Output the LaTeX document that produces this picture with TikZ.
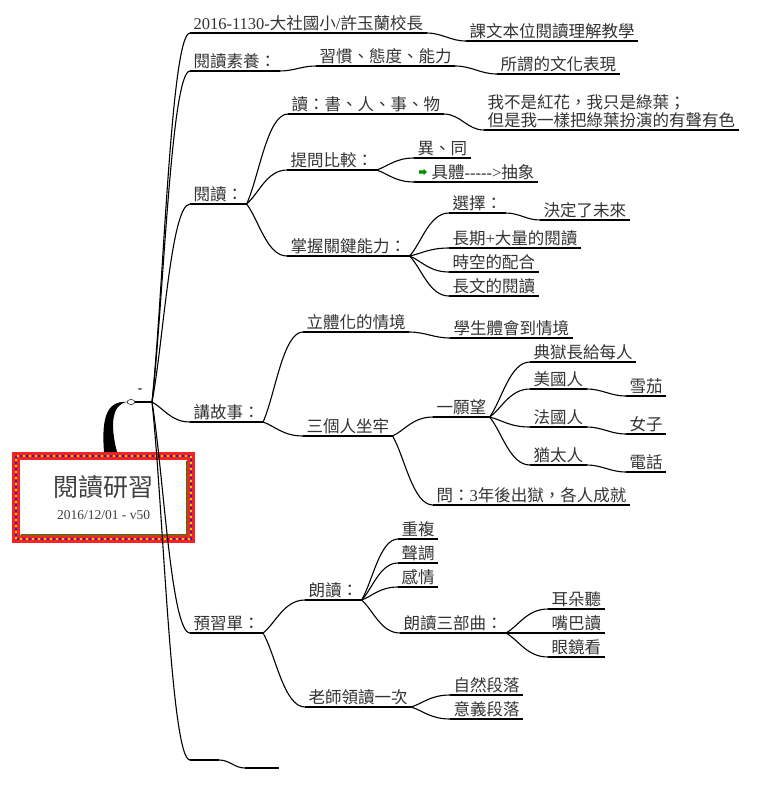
\documentclass[tikz,border=0pt]{standalone}
\usepackage{fontspec}
\setmainfont{Noto Sans CJK TC}
\newfontfamily\latinfont{Liberation Serif}
\usepackage{xcolor}
\usepackage{tikz}
\usetikzlibrary{shapes,arrows,positioning,calc}
\newcommand{\topicfont}{\fontsize{16.5}{18}\selectfont}
\definecolor{rootred}{RGB}{245,35,35}
\definecolor{rootblue}{RGB}{40,40,190}
\definecolor{rootyellow}{RGB}{255,200,0}

\begin{document}
\begin{tikzpicture}[
  x=1pt, y=-1pt, line width=1.1pt,
  topic/.style={anchor=south west, inner xsep=3pt, inner ysep=1.5pt, font=\topicfont, text=black!80,
    append after command={(\tikzlastnode.south west) edge (\tikzlastnode.south east)}},
  branch/.style={to path={.. controls ($(\tikztostart)!0.3!(\tikztotarget)$) and ($(\tikztostart |- \tikztotarget)!0.5!(\tikztotarget)$) .. (\tikztotarget)}},
  follow/.style={out=0, in=180},
  rootbox/.style={minimum width=183pt, minimum height=91pt, fill=white, align=center, inner sep=0pt, outer sep=0pt, text=black!75}
]
  \useasboundingbox (0,0) rectangle (765,788);

  % Root
  \node[rootbox] (root) at (103.5,497.5) {{\fontsize{25}{28}\selectfont 閱讀研習}\\[11pt]{\latinfont\fontsize{13.5}{15}\selectfont 2016/12/01 - v50}};
  \draw[rootred, line width=8pt] ([shift={(4pt,-4pt)}]root.north west) rectangle ([shift={(-4pt,4pt)}]root.south east);
  \draw[rootblue, line width=2pt, dash pattern=on 2pt off 4pt] ([shift={(4pt,-4pt)}]root.north west) rectangle ([shift={(-4pt,4pt)}]root.south east);
  \draw[rootyellow, line width=2pt, dash pattern=on 2pt off 4pt, dash phase=3pt] ([shift={(4pt,-4pt)}]root.north west) rectangle ([shift={(-4pt,4pt)}]root.south east);
  \draw[green!60!black, line width=0.5pt] ([shift={(-8.5pt,-8.5pt)}]root.north east) -- ([shift={(-8.5pt,8.5pt)}]root.south east) -- ([shift={(8.5pt,8.5pt)}]root.south west);

  % Trunk
  \node[draw, ellipse, fill=white, minimum width=8pt, minimum height=5pt, inner sep=0pt, line width=0.5pt] (fold) at (131,402) {};
  \coordinate (hub) at (152,402);
  \node[font=\latinfont\fontsize{13}{13}\selectfont\bfseries, inner sep=0pt] (minus) at (140,391) {-};
  \fill ([xshift=0.5pt]root.north) .. controls +(-2,-27) and +(-23,-2) .. (fold.west) .. controls +(-15,2.5) and +(-7,-27) .. ([xshift=13.5pt]root.north) -- cycle;
  \draw (fold) -- (hub);

  % Level 1
  \node[topic] (note) at (190,33) {{\latinfont 2016-1130-}大社國小{\latinfont /}許玉蘭校長};
  \node[topic] (suyang) at (190,71) {閱讀素養：};
  \node[topic] (yuedu) at (190,204) {閱讀：};
  \node[topic] (story) at (190,422) {講故事：};
  \node[topic] (preview) at (190,633) {預習單：};
  \node[topic, minimum width=28pt] (blank) at (190,760) {};

  % Level 2 - note, suyang
  \node[topic] (kewen) at (466,41) {課文本位閱讀理解教學};
  \node[topic] (habit) at (316,66) {習慣、態度、能力};
  \node[topic] (culture) at (497,74) {所謂的文化表現};
  \node[topic, minimum width=33pt] (blanktail) at (245,768) {};

  % Level 2 - yuedu
  \node[topic] (du) at (288,114) {讀：書、人、事、物};
  \node[topic, align=left] (leaf) at (484,130) {我不是紅花，我只是綠葉；\\但是我一樣把綠葉扮演的有聲有色};
  \node[topic] (compare) at (287,170) {提問比較：};
  \node[topic] (diff) at (414,158) {異、同};
  \node[topic] (concrete) at (414,182) {\hspace{14pt}具體{\latinfont -{}-{}-{}-{}->}抽象};
  \node[single arrow, fill=green!55!black, minimum height=8pt, minimum width=6pt, single arrow head extend=1.5pt, inner sep=1pt] (icon) at (422,172) {};
  \node[topic] (grasp) at (287,256) {掌握關鍵能力：};
  \node[topic] (choose) at (449,213) {選擇：};
  \node[topic] (future) at (540,220) {決定了未來};
  \node[topic] (longterm) at (449,248) {長期{\latinfont +}大量的閱讀};
  \node[topic] (timing) at (449,272) {時空的配合};
  \node[topic] (longtext) at (449,296) {長文的閱讀};

  % Level 2 - story
  \node[topic] (scene) at (303,332) {立體化的情境};
  \node[topic] (feel) at (450,338) {學生體會到情境};
  \node[topic] (prison) at (303,436) {三個人坐牢};
  \node[topic] (wish) at (433,417) {一願望};
  \node[topic] (warden) at (530,362) {典獄長給每人};
  \node[topic] (usa) at (530,389) {美國人};
  \node[topic] (cigar) at (626,396) {雪茄};
  \node[topic] (france) at (530,427) {法國人};
  \node[topic] (woman) at (626,434) {女子};
  \node[topic] (jew) at (530,465) {猶太人};
  \node[topic] (phone) at (626,472) {電話};
  \node[topic] (ask) at (433,505) {問：{\latinfont 3}年後出獄，各人成就};

  % Level 2 - preview
  \node[topic] (aloud) at (305,600) {朗讀：};
  \node[topic] (repeat) at (398,539) {重複};
  \node[topic] (tone) at (398,563) {聲調};
  \node[topic] (emotion) at (398,587) {感情};
  \node[topic] (trilogy) at (400,633) {朗讀三部曲：};
  \node[topic] (ear) at (548,609) {耳朵聽};
  \node[topic] (mouth) at (548,633) {嘴巴讀};
  \node[topic] (eye) at (548,657) {眼鏡看};
  \node[topic] (teacher) at (305,707) {老師領讀一次};
  \node[topic] (natural) at (450,695) {自然段落};
  \node[topic] (meaning) at (450,719) {意義段落};

  % Connectors
  \draw (hub) to[branch] (note.south west);
  \draw (hub) to[branch] (suyang.south west);
  \draw (hub) to[branch] (yuedu.south west);
  \draw (hub) to[branch] (story.south west);
  \draw (hub) to[branch] (preview.south west);
  \draw (hub) to[branch] (blank.south west);
  \draw (note.south east) to[follow] (kewen.south west);
  \draw (suyang.south east) to[follow] (habit.south west);
  \draw (habit.south east) to[follow] (culture.south west);
  \draw (blank.south east) to[follow] (blanktail.south west);
  \draw (yuedu.south east) to[branch] (du.south west);
  \draw (yuedu.south east) to[branch] (compare.south west);
  \draw (yuedu.south east) to[branch] (grasp.south west);
  \draw (du.south east) to[follow] (leaf.south west);
  \draw (compare.south east) to[branch] (diff.south west);
  \draw (compare.south east) to[branch] (concrete.south west);
  \draw (grasp.south east) to[branch] (choose.south west);
  \draw (grasp.south east) to[branch] (longterm.south west);
  \draw (grasp.south east) to[branch] (timing.south west);
  \draw (grasp.south east) to[branch] (longtext.south west);
  \draw (choose.south east) to[follow] (future.south west);
  \draw (story.south east) to[branch] (scene.south west);
  \draw (story.south east) to[branch] (prison.south west);
  \draw (scene.south east) to[follow] (feel.south west);
  \draw (prison.south east) to[branch] (wish.south west);
  \draw (prison.south east) to[branch] (ask.south west);
  \draw (wish.south east) to[branch] (warden.south west);
  \draw (wish.south east) to[branch] (usa.south west);
  \draw (wish.south east) to[branch] (france.south west);
  \draw (wish.south east) to[branch] (jew.south west);
  \draw (usa.south east) to[follow] (cigar.south west);
  \draw (france.south east) to[follow] (woman.south west);
  \draw (jew.south east) to[follow] (phone.south west);
  \draw (preview.south east) to[branch] (aloud.south west);
  \draw (preview.south east) to[branch] (teacher.south west);
  \draw (aloud.south east) to[branch] (repeat.south west);
  \draw (aloud.south east) to[branch] (tone.south west);
  \draw (aloud.south east) to[branch] (emotion.south west);
  \draw (aloud.south east) to[branch] (trilogy.south west);
  \draw (trilogy.south east) to[branch] (ear.south west);
  \draw (trilogy.south east) to[branch] (mouth.south west);
  \draw (trilogy.south east) to[branch] (eye.south west);
  \draw (teacher.south east) to[branch] (natural.south west);
  \draw (teacher.south east) to[branch] (meaning.south west);
\end{tikzpicture}
\end{document}
